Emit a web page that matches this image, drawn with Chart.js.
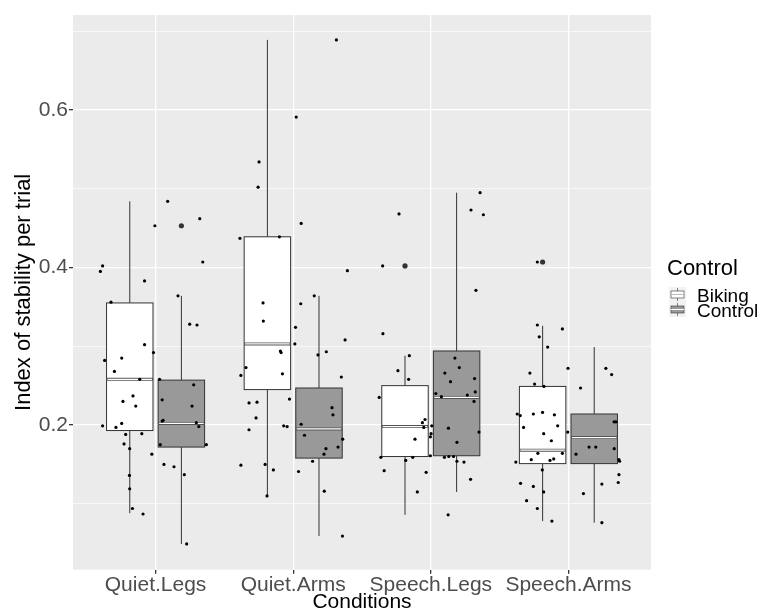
<!DOCTYPE html>
<html>
<head>
<meta charset="utf-8">
<script src="https://cdn.jsdelivr.net/npm/chart.js@4/dist/chart.umd.min.js"></script>
<style>
  html, body { margin: 0; padding: 0; background: #fff; }
</style>
</head>
<body>
<canvas id="boxChart" width="766" height="615"></canvas>
<script>
// categories and groups
const categories = ['Quiet.Legs', 'Quiet.Arms', 'Speech.Legs', 'Speech.Arms'];
const groups = ['Biking', 'Control'];

// box stats per category: [lower whisker, q1, median, q3, upper whisker]
const bikingBoxes = [
  [0.088, 0.193, 0.258, 0.355, 0.484],
  [0.110, 0.245, 0.303, 0.439, 0.689],
  [0.086, 0.160, 0.198, 0.250, 0.288],
  [0.078, 0.151, 0.168, 0.249, 0.326]
];
const controlBoxes = [
  [0.049, 0.172, 0.202, 0.257, 0.364],
  [0.059, 0.158, 0.195, 0.247, 0.364],
  [0.115, 0.161, 0.235, 0.294, 0.495],
  [0.076, 0.151, 0.184, 0.214, 0.299]
];

// outliers drawn by the boxplot: [category index, group index, value]
const outliers = [
  [0, 1, 0.453],
  [2, 0, 0.402],
  [3, 0, 0.407]
];

// jittered trial points [x, value]
const quietLegsPoints = [
  [0.599,0.395],[0.615,0.402],[0.920,0.383],[0.995,0.453],[1.088,0.484],[1.321,0.462],[1.343,0.407],
  [1.163,0.364],[0.676,0.356],[0.920,0.302],[0.985,0.292],[0.630,0.282],[0.754,0.285],[0.701,0.268],
  [0.885,0.258],[1.029,0.258],[1.277,0.251],[0.763,0.230],[0.836,0.237],[0.856,0.224],[1.048,0.232],
  [1.265,0.224],[0.615,0.199],[0.712,0.197],[0.754,0.202],[1.048,0.205],[1.055,0.206],[1.296,0.203],
  [1.314,0.198],[0.783,0.188],[0.900,0.189],[0.771,0.176],[0.812,0.170],[1.034,0.175],[1.369,0.175],
  [0.973,0.163],[1.061,0.150],[1.134,0.147],[1.209,0.137],[0.810,0.136],[0.812,0.119],[0.832,0.094],
  [0.909,0.087],[1.226,0.049],[1.248,0.328],[1.301,0.327]
];
const quietArmsPoints = [
  [1.613,0.437],[1.745,0.502],[1.752,0.534],[1.900,0.439],[2.022,0.591],[2.058,0.456],[2.314,0.689],
  [2.394,0.396],[2.153,0.364],[1.781,0.355],[2.055,0.354],[1.783,0.332],[2.017,0.324],[2.377,0.308],
  [2.012,0.303],[1.907,0.294],[1.912,0.292],[2.241,0.293],[2.180,0.289],[1.657,0.273],[1.620,0.263],
  [1.922,0.265],[2.350,0.261],[1.973,0.233],[1.679,0.228],[1.737,0.229],[2.282,0.222],[2.289,0.213],
  [1.730,0.209],[1.931,0.199],[1.956,0.198],[2.058,0.201],[1.679,0.194],[2.082,0.187],[2.360,0.182],
  [2.326,0.172],[2.238,0.170],[2.224,0.163],[2.141,0.154],[1.620,0.149],[1.796,0.150],[1.856,0.143],
  [2.039,0.141],[1.810,0.110],[2.226,0.116],[2.358,0.059]
];
const speechLegsPoints = [
  [2.650,0.402],[2.769,0.468],[3.358,0.495],[3.292,0.473],[3.382,0.467],[3.328,0.371],[2.652,0.316],
  [2.844,0.288],[2.761,0.269],[2.839,0.258],[2.625,0.235],[2.958,0.207],[2.939,0.203],[2.949,0.197],
  [3.007,0.199],[3.002,0.189],[2.997,0.185],[2.885,0.182],[2.637,0.159],[2.818,0.155],[2.869,0.159],
  [2.997,0.161],[2.661,0.142],[2.966,0.140],[2.902,0.115],[3.175,0.285],[3.207,0.273],[3.102,0.266],
  [3.318,0.259],[3.143,0.255],[3.036,0.240],[3.077,0.236],[3.265,0.238],[3.323,0.242],[3.314,0.230],
  [3.128,0.196],[3.350,0.191],[3.190,0.178],[3.099,0.159],[3.131,0.160],[3.165,0.160],[3.190,0.154],
  [3.241,0.153],[3.289,0.131],[3.126,0.086]
];
const speechArmsPoints = [
  [3.774,0.407],[3.774,0.327],[3.788,0.312],[3.956,0.322],[3.849,0.299],[3.997,0.272],[3.720,0.266],
  [3.754,0.252],[3.822,0.249],[3.628,0.214],[3.650,0.212],[3.745,0.214],[3.812,0.216],[3.898,0.213],
  [3.674,0.197],[3.922,0.199],[3.820,0.189],[3.876,0.180],[3.995,0.191],[3.778,0.164],[3.618,0.153],
  [3.730,0.156],[3.866,0.155],[3.893,0.157],[3.956,0.164],[3.810,0.143],[3.652,0.126],[3.745,0.122],
  [3.820,0.115],[3.696,0.104],[3.774,0.094],[3.880,0.078],[4.272,0.272],[4.314,0.264],[4.088,0.247],
  [4.332,0.204],[4.345,0.204],[4.055,0.163],[4.150,0.172],[4.199,0.172],[4.333,0.170],[4.367,0.156],
  [4.372,0.154],[4.367,0.137],[4.362,0.127],[4.243,0.125],[4.109,0.113],[4.243,0.076]
];

const yTicks = [0.1, 0.2, 0.3, 0.4, 0.5, 0.6, 0.7];
const yLabels = [0.2, 0.4, 0.6];

const FONT = "'Liberation Sans', Arial, sans-serif";
const boxFills = ['#FFFFFF', '#999999'];
const dodge = 0.1875;
const halfWidth = 0.16875;

const toXY = arr => arr.map(p => ({ x: p[0], y: p[1] }));
const allPoints = [].concat(
  toXY(quietLegsPoints), toXY(quietArmsPoints), toXY(speechLegsPoints), toXY(speechArmsPoints)
);
const outlierPoints = outliers.map(o => ({ x: o[0] + 1 + (o[1] === 0 ? -dodge : dodge), y: o[2] }));

// panel background
const panelBg = {
  id: 'panelBg',
  beforeDraw(chart) {
    const { ctx, chartArea: a } = chart;
    ctx.save();
    ctx.fillStyle = '#EBEBEB';
    ctx.fillRect(a.left, a.top, a.right - a.left, a.bottom - a.top);
    ctx.restore();
  }
};

// boxes and whiskers through the chart scales
const boxPlot = {
  id: 'boxPlot',
  beforeDatasetsDraw(chart) {
    const { ctx } = chart;
    const xs = chart.scales.x, ys = chart.scales.y;
    [bikingBoxes, controlBoxes].forEach((boxes, g) => {
      boxes.forEach((s, i) => {
        const c = i + 1 + (g === 0 ? -dodge : dodge);
        const xc = xs.getPixelForValue(c);
        const xl = xs.getPixelForValue(c - halfWidth);
        const xr = xs.getPixelForValue(c + halfWidth);
        const [lo, q1, med, q3, hi] = s.map(v => ys.getPixelForValue(v));
        ctx.save();
        ctx.strokeStyle = '#333333';
        ctx.lineWidth = 1;
        ctx.beginPath();
        ctx.moveTo(xc, lo); ctx.lineTo(xc, q1);
        ctx.moveTo(xc, q3); ctx.lineTo(xc, hi);
        ctx.stroke();
        ctx.fillStyle = boxFills[g];
        ctx.fillRect(xl, q3, xr - xl, q1 - q3);
        ctx.strokeRect(xl, q3, xr - xl, q1 - q3);
        ctx.lineWidth = 3;
        ctx.strokeStyle = '#555555';
        ctx.beginPath(); ctx.moveTo(xl, med); ctx.lineTo(xr, med); ctx.stroke();
        ctx.lineWidth = 1.3;
        ctx.strokeStyle = '#FFFFFF';
        ctx.beginPath(); ctx.moveTo(xl + 1, med); ctx.lineTo(xr - 1, med); ctx.stroke();
        ctx.restore();
      });
    });
  }
};

// legend drawn to the right of the panel
const boxLegend = {
  id: 'boxLegend',
  afterDraw(chart) {
    const { ctx } = chart;
    ctx.save();
    ctx.fillStyle = '#000';
    ctx.textBaseline = 'middle';
    ctx.textAlign = 'left';
    ctx.font = '22px ' + FONT;
    ctx.fillText('Control', 667, 269);
    ctx.font = '19px ' + FONT;
    groups.forEach((name, g) => {
      const kx = 669, ky = 287 + g * 15, kw = 17, kh = 15;
      ctx.fillStyle = '#F2F2F2';
      ctx.fillRect(kx, ky, kw, kh);
      const cx = kx + kw / 2;
      ctx.strokeStyle = '#333333';
      ctx.lineWidth = 0.6;
      ctx.beginPath();
      ctx.moveTo(cx, ky + 1); ctx.lineTo(cx, ky + 4);
      ctx.moveTo(cx, ky + kh - 4); ctx.lineTo(cx, ky + kh - 1);
      ctx.stroke();
      ctx.fillStyle = boxFills[g];
      ctx.fillRect(kx + 2, ky + 4, kw - 4, kh - 8);
      ctx.strokeRect(kx + 2, ky + 4, kw - 4, kh - 8);
      ctx.strokeStyle = g === 0 ? '#BBBBBB' : '#FFFFFF';
      ctx.lineWidth = 1;
      ctx.beginPath(); ctx.moveTo(kx + 2, ky + kh / 2); ctx.lineTo(kx + kw - 2, ky + kh / 2); ctx.stroke();
      ctx.fillStyle = '#000';
      ctx.fillText(name, 697, 297 + g * 14.5);
    });
    ctx.restore();
  }
};

const ctx = document.getElementById('boxChart').getContext('2d');
const chart = new Chart(ctx, {
  type: 'scatter',
  data: {
    datasets: [
      {
        label: 'trials',
        data: allPoints,
        backgroundColor: '#000000',
        borderWidth: 0,
        pointRadius: 1.6
      },
      {
        label: 'outliers',
        data: outlierPoints,
        backgroundColor: '#333333',
        borderWidth: 0,
        pointRadius: 2.6
      }
    ]
  },
  options: {
    responsive: false,
    animation: false,
    layout: { padding: { left: 0, top: 15, right: 115, bottom: 0 } },
    plugins: {
      legend: { display: false },
      tooltip: { enabled: false }
    },
    scales: {
      x: {
        type: 'linear',
        min: 0.4,
        max: 4.6,
        afterBuildTicks: s => { s.ticks = [1, 2, 3, 4].map(v => ({ value: v })); },
        afterFit: s => { s.height = 45.3; },
        border: { display: false },
        grid: { color: '#FFFFFF', lineWidth: 1.3, tickColor: '#333333', tickLength: 4 },
        ticks: {
          callback: v => categories[v - 1],
          color: '#4D4D4D',
          font: { family: FONT, size: 21 },
          padding: -1,
          maxRotation: 0
        },
        title: {
          display: true,
          text: 'Conditions',
          color: '#000000',
          font: { family: FONT, size: 21 },
          padding: { top: 0, bottom: 0 }
        }
      },
      y: {
        type: 'linear',
        min: 0.0163,
        max: 0.7206,
        afterBuildTicks: s => { s.ticks = yTicks.map(v => ({ value: v })); },
        afterFit: s => { s.width = 73; },
        border: { display: false },
        grid: {
          color: '#FFFFFF',
          lineWidth: c => (yLabels.some(l => Math.abs(l - c.tick.value) < 1e-6) ? 1.3 : 0.65),
          tickColor: c => (yLabels.some(l => Math.abs(l - c.tick.value) < 1e-6) ? '#333333' : 'rgba(0,0,0,0)'),
          tickLength: 4
        },
        ticks: {
          callback: v => (yLabels.some(l => Math.abs(l - v) < 1e-6) ? v.toFixed(1) : ''),
          color: '#4D4D4D',
          font: { family: FONT, size: 21 },
          padding: 1
        },
        title: {
          display: true,
          text: 'Index of stability per trial',
          color: '#000000',
          font: { family: FONT, size: 22 },
          padding: { top: 11, bottom: 0 }
        }
      }
    }
  },
  plugins: [panelBg, boxPlot, boxLegend]
});
</script>
</body>
</html>
